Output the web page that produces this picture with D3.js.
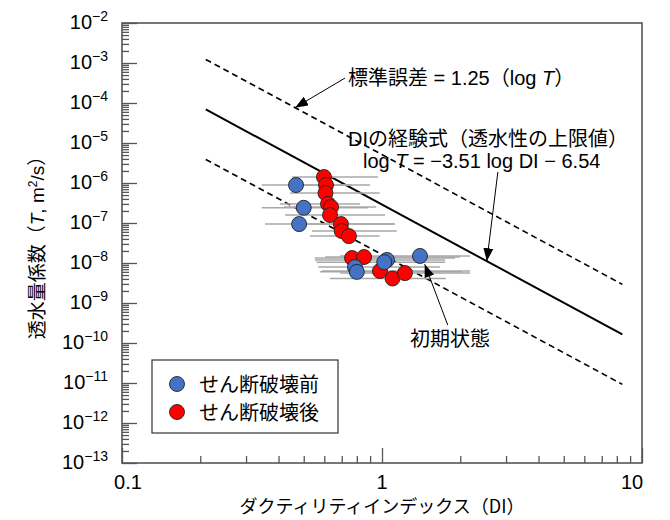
<!DOCTYPE html>
<html><head><meta charset="utf-8">
<script src="https://cdn.jsdelivr.net/npm/d3@7"></script>
<style>body{margin:0;background:#fff}</style>
</head><body>
<svg id="c" width="670" height="520"></svg>
<script>
// ---- data ----
const beforeDI  = [0.467, 0.50, 0.48, 0.787, 0.80, 1.045, 1.02, 1.40];
const beforeT   = [8.9e-7, 2.4e-7, 9.4e-8, 7.9e-9, 6.0e-9, 1.19e-8, 1.05e-8, 1.5e-8];
const beforeMin = [0.345, 0.345, 0.355, 0.568, 0.577, 0.552, 0.56, 0.69];
const beforeMax = [0.767, 0.883, 1.12, 1.67, 2.03, 1.75, 1.75, 2.18];

const afterDI  = [0.598, 0.609, 0.606, 0.62, 0.637, 0.631, 0.695, 0.70, 0.746, 0.767, 0.853, 0.982, 1.098, 1.225];
const afterT   = [1.41e-6, 8.9e-7, 5.6e-7, 3.0e-7, 2.5e-7, 1.58e-7, 9.4e-8, 6.3e-8, 4.7e-8, 1.33e-8, 1.41e-8, 6.3e-9, 4.1e-9, 5.6e-9];
const afterMin = [0.451, 0.443, 0.443, 0.405, 0.42, 0.424, 0.484, 0.538, 0.528, 0.552, 0.604, 0.588, 0.631, 0.69];
const afterMax = [0.966, 0.899, 0.98, 0.822, 0.95, 1.027, 1.12, 1.14, 0.98, 1.91, 2.0, 2.18, 1.76, 2.18];

const empSlope = -3.51, empIntercept = -6.54, stdErr = 1.25;
const lineDIRange = [0.21, 8.4];

const xTickValues = [0.1, 1, 10];
const xTickLabels = ["0.1", "1", "10"];
const yExponents = [-2, -3, -4, -5, -6, -7, -8, -9, -10, -11, -12, -13];

const legendLabels = ["せん断破壊前", "せん断破壊後"];
const seriesColors = ["#4472C4", "#FF0000"];

// annotation anchors in data units [DI, T]
const arrowStdErr = {from: [0.721, Math.pow(10, -3.375)], to: [0.463, null]};
const arrowEmp    = {from: [2.79, Math.pow(10, -5.725)], to: [2.53, null]};
const arrowInit   = {from: [1.79, Math.pow(10, -9.55)], to: [1.46, Math.pow(10, -8.03)]};

// ---- chart ----
const svg = d3.select("#c");
const font = '"Liberation Sans", Arial, "Noto Sans CJK JP", sans-serif';
const cjk = '"Noto Sans CJK JP", "Liberation Sans", sans-serif';
const x = d3.scaleLog().domain([0.1, 10]).range([122, 642]);
const y = d3.scaleLog().domain([1e-13, 1e-2]).range([463, 23]);
const axisColor = "#555";

const empT = (di, off) => Math.pow(10, empSlope * Math.log10(di) + empIntercept + off);

// defs arrow
svg.append("defs").append("marker")
  .attr("id", "arr").attr("markerUnits", "userSpaceOnUse")
  .attr("markerWidth", 14).attr("markerHeight", 10)
  .attr("refX", 13).attr("refY", 5).attr("orient", "auto")
  .append("path").attr("d", "M0,0 L13,5 L0,10 Z").attr("fill", "#000");

// minor/major ticks
const xMinor = [];
[0.1, 1].forEach(d => { for (let k = 2; k <= 9; k++) xMinor.push(d * k); });
const yMinor = [];
yExponents.slice(0, -1).forEach(e => { for (let k = 2; k <= 9; k++) yMinor.push(k * Math.pow(10, e - 1)); });
const yMajor = yExponents.map(e => Math.pow(10, e));

function styleAxis(g) {
  g.select(".domain").remove();
  g.selectAll("line").attr("stroke", axisColor).attr("stroke-width", 1.3);
  g.selectAll("text").remove();
}
svg.append("g").attr("transform", `translate(0,${y.range()[0]})`)
  .call(d3.axisBottom(x).tickValues(xMinor).tickSize(-7)).call(styleAxis);
svg.append("g").attr("transform", `translate(0,${y.range()[0]})`)
  .call(d3.axisBottom(x).tickValues(xTickValues).tickSize(-15)).call(styleAxis);
svg.append("g").attr("transform", `translate(${x.range()[0]},0)`)
  .call(d3.axisLeft(y).tickValues(yMinor).tickSize(-7)).call(styleAxis);
svg.append("g").attr("transform", `translate(${x.range()[0]},0)`)
  .call(d3.axisLeft(y).tickValues(yMajor).tickSize(-15)).call(styleAxis);

// frame
svg.append("rect")
  .attr("x", x.range()[0]).attr("y", y.range()[1])
  .attr("width", x.range()[1] - x.range()[0]).attr("height", y.range()[0] - y.range()[1])
  .attr("fill", "none").attr("stroke", axisColor).attr("stroke-width", 1.6);

// x tick labels
svg.selectAll(".xl").data(xTickValues).join("text")
  .attr("x", d => x(d) + (d === 10 ? -10 : (d === 0.1 ? 6 : 0))).attr("y", 489)
  .attr("text-anchor", "middle").attr("font-family", font).attr("font-size", 20).attr("fill", "#000")
  .text((d, i) => xTickLabels[i]);

// y tick labels
const yl = svg.selectAll(".yl").data(yExponents).join("text")
  .attr("x", 108).attr("y", d => y(Math.pow(10, d)) + 6)
  .attr("text-anchor", "end").attr("font-family", font).attr("font-size", 20).attr("fill", "#000");
yl.append("tspan").text("10");
yl.append("tspan").attr("dy", -8).attr("font-size", 14).text(d => "\u2212" + Math.abs(d));

// axis titles
svg.append("text").attr("x", 382).attr("y", 513).attr("text-anchor", "middle")
  .attr("font-family", cjk).attr("font-size", 18).attr("fill", "#000")
  .text("ダクティリティインデックス（DI）");
const yt = svg.append("text").attr("transform", "translate(44,243) rotate(-90)")
  .attr("text-anchor", "middle").attr("font-family", cjk).attr("font-size", 19).attr("fill", "#000");
yt.append("tspan").text("透水量係数（");
yt.append("tspan").attr("font-style", "italic").attr("font-family", font).text("T");
yt.append("tspan").attr("font-family", font).text(", m");
yt.append("tspan").attr("font-family", font).attr("font-size", 12).attr("dy", -7).text("2");
yt.append("tspan").attr("font-family", font).attr("dy", 7).text("/s");
yt.append("tspan").text("）");

// regression lines
const lineGen = off => d3.line().x(d => x(d)).y(d => y(empT(d, off)));
svg.append("path").attr("d", lineGen(0)(lineDIRange))
  .attr("stroke", "#000").attr("stroke-width", 2).attr("fill", "none");
[stdErr, -stdErr].forEach(o => {
  svg.append("path").attr("d", lineGen(o)(lineDIRange))
    .attr("stroke", "#000").attr("stroke-width", 1.6).attr("stroke-dasharray", "6,4").attr("fill", "none");
});

// error bars
const series = [
  {di: beforeDI, t: beforeT, mn: beforeMin, mx: beforeMax, color: seriesColors[0]},
  {di: afterDI, t: afterT, mn: afterMin, mx: afterMax, color: seriesColors[1]}
];
series.forEach(s => {
  svg.append("g").selectAll("line").data(s.di).join("line")
    .attr("x1", (d, i) => x(s.mn[i])).attr("x2", (d, i) => x(s.mx[i]))
    .attr("y1", (d, i) => y(s.t[i])).attr("y2", (d, i) => y(s.t[i]))
    .attr("stroke", "#a8a8a8").attr("stroke-width", 1.5);
});
[series[1], series[0]].forEach(s => {
  svg.append("g").selectAll("circle").data(s.di).join("circle")
    .attr("cx", d => x(d)).attr("cy", (d, i) => y(s.t[i])).attr("r", 7.5)
    .attr("fill", s.color).attr("stroke", "#222").attr("stroke-width", 0.9);
});

// annotations
function arrow(a, off) {
  const toT = a.to[1] === null ? empT(a.to[0], off) : a.to[1];
  svg.append("line")
    .attr("x1", x(a.from[0])).attr("y1", y(a.from[1]))
    .attr("x2", x(a.to[0])).attr("y2", y(toT))
    .attr("stroke", "#000").attr("stroke-width", 1).attr("marker-end", "url(#arr)");
}
arrow(arrowStdErr, stdErr);
arrow(arrowEmp, 0);
arrow(arrowInit, 0);

const t1 = svg.append("text").attr("x", 348).attr("y", 85).attr("font-family", cjk).attr("font-size", 20).attr("fill", "#000");
t1.append("tspan").text("標準誤差");
t1.append("tspan").attr("font-family", font).text(" = 1.25");
t1.append("tspan").text("（");
t1.append("tspan").attr("font-family", font).text("log ");
t1.append("tspan").attr("font-family", font).attr("font-style", "italic").text("T");
t1.append("tspan").text("）");

const t2 = svg.append("text").attr("x", 348).attr("y", 146).attr("font-family", cjk).attr("font-size", 20).attr("fill", "#000");
t2.append("tspan").attr("font-family", font).text("DI");
t2.append("tspan").text("の経験式（透水性の上限値）");

const t3 = svg.append("text").attr("x", 363).attr("y", 168).attr("font-family", font).attr("font-size", 20).attr("fill", "#000");
t3.append("tspan").text("log ");
t3.append("tspan").attr("font-style", "italic").text("T");
t3.append("tspan").text(" = \u22123.51 log DI \u2212 6.54");

svg.append("text").attr("x", 410).attr("y", 346).attr("font-family", cjk).attr("font-size", 20).attr("fill", "#000")
  .text("初期状態");

// legend
svg.append("rect").attr("x", 152).attr("y", 360).attr("width", 186).attr("height", 73)
  .attr("fill", "#fff").attr("stroke", "#333").attr("stroke-width", 1.2);
legendLabels.forEach((lab, i) => {
  svg.append("circle").attr("cx", 177).attr("cy", 384 + i * 28).attr("r", 7.5)
    .attr("fill", seriesColors[i]).attr("stroke", "#222").attr("stroke-width", 0.9);
  svg.append("text").attr("x", 199).attr("y", 392 + i * 28).attr("font-family", cjk).attr("font-size", 20)
    .attr("fill", "#000").text(lab);
});
</script>
</body></html>
